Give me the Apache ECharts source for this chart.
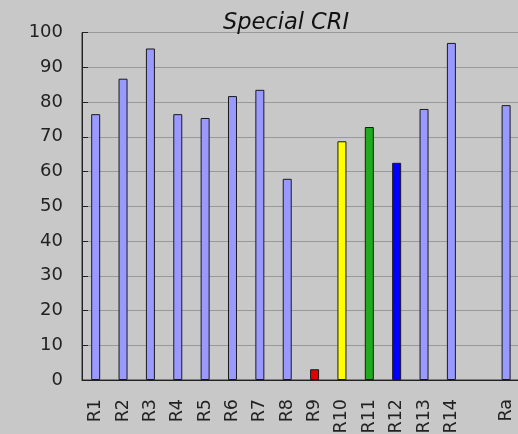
<!DOCTYPE html>
<html>
<head>
<meta charset="utf-8">
<script src="https://cdn.jsdelivr.net/npm/echarts@6/dist/echarts.min.js"></script>
<style>
html,body{margin:0;padding:0;background:#c8c8c8;}
#c{width:518px;height:434px;}
</style>
</head>
<body>
<div id="c"></div>
<script>
const categories = ["R1","R2","R3","R4","R5","R6","R7","R8","R9","R10","R11","R12","R13","R14","","Ra"];
const values = [76.5, 86.7, 95.4, 76.5, 75.4, 81.7, 83.5, 57.9, 3.1, 68.7, 72.8, 62.5, 78.0, 97.0, null, 79.1];
const yTicks = [0,10,20,30,40,50,60,70,80,90,100];

const special = {"R9":"#e00000","R10":"#ffff00","R11":"#1faa1f","R12":"#0000ff"};
const baseColor = "#9999ff";

const chart = echarts.init(document.getElementById('c'));
chart.setOption({
  backgroundColor: "#c8c8c8",
  animation: false,
  title: {
    text: "Special CRI",
    left: 281, top: 7, textAlign: "center",
    textStyle: {fontFamily: "DejaVu Sans", fontStyle: "italic", fontWeight: "normal", fontSize: 22.5, color: "#111"}
  },
  grid: {left: 82, top: 32.5, width: 437.8, height: 347.5, show: true, borderColor: "#333", borderWidth: 1,
    backgroundColor: "transparent", containLabel: false, outerBoundsMode: "none"},
  xAxis: {
    type: "category", data: categories,
    axisLine: {lineStyle: {color: "#222", width: 1}},
    axisTick: {show: false},
    axisLabel: {rotate: 90, interval: 0, margin: 19, fontFamily: "DejaVu Sans", fontSize: 17.5, color: "#222"}
  },
  yAxis: {
    type: "value", min: 0, max: 100, interval: 10,
    axisLine: {show: true, lineStyle: {color: "#222"}},
    axisTick: {show: true, inside: true, length: 6, lineStyle: {color: "#222"}},
    splitLine: {lineStyle: {color: "#999", width: 1}},
    axisLabel: {margin: 19, fontFamily: "DejaVu Sans", fontSize: 18, color: "#222",
      formatter: v => yTicks.includes(v) ? String(v) : ""}
  },
  series: [{
    type: "bar", barWidth: 9,
    data: values.map((v,i) => ({value: v, itemStyle: {color: special[categories[i]] || baseColor}})),
    itemStyle: {borderColor: "#1a1a1a", borderWidth: 1}
  }]
});
</script>
</body>
</html>
